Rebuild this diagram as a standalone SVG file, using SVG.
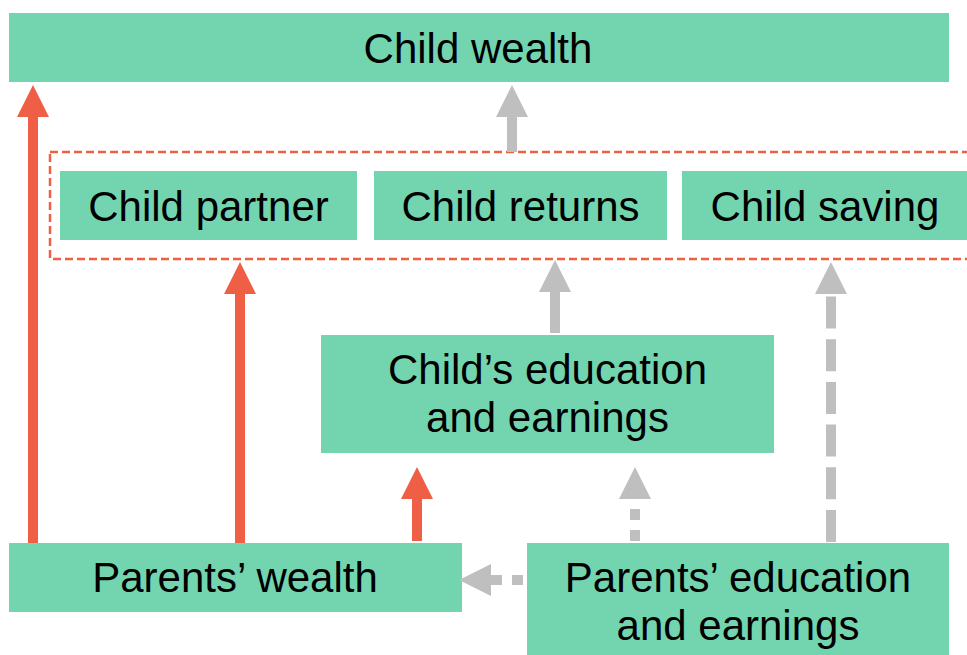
<svg xmlns="http://www.w3.org/2000/svg" width="967" height="655" viewBox="0 0 967 655">
<style>
.box{fill:#73D5B0}
.t{font-family:"Liberation Sans",Arial,sans-serif;font-size:42px;fill:#000;text-anchor:middle}
.red{stroke:#EE5F45;stroke-width:10;fill:none}
.gray{stroke:#BFBFBF;stroke-width:10;fill:none}
</style>
<defs>
<marker id="hr" markerUnits="userSpaceOnUse" markerWidth="32" markerHeight="32" refX="0" refY="16" orient="auto"><path d="M0,0 L32,16 L0,32 z" fill="#EE5F45"/></marker>
<marker id="hg" markerUnits="userSpaceOnUse" markerWidth="32" markerHeight="32" refX="0" refY="16" orient="auto"><path d="M0,0 L32,16 L0,32 z" fill="#BFBFBF"/></marker>
</defs>
<rect x="-10" y="-10" width="990" height="680" fill="#fff"/>
<g id="group-child-outcomes">
<rect x="50" y="152" width="930" height="107" fill="none" stroke="#EE5F45" stroke-width="2.5" stroke-dasharray="8 4"/>
</g>
<g id="child-wealth"><rect class="box" x="9" y="13" width="940" height="69"/><text class="t" x="478" y="63">Child wealth</text></g>
<g id="child-partner"><rect class="box" x="60" y="171" width="297" height="69"/><text class="t" x="208.5" y="221">Child partner</text></g>
<g id="child-returns"><rect class="box" x="374" y="171" width="293" height="69"/><text class="t" x="520.5" y="221">Child returns</text></g>
<g id="child-saving"><rect class="box" x="682" y="171" width="290" height="69"/><text class="t" x="825" y="221">Child saving</text></g>
<g id="child-education"><rect class="box" x="321" y="335" width="453" height="118"/><text class="t" x="547.5" y="384">Child’s education</text><text class="t" x="547.5" y="432">and earnings</text></g>
<g id="parents-wealth"><rect class="box" x="9" y="543" width="453" height="69"/><text class="t" x="235" y="592">Parents’ wealth</text></g>
<g id="parents-education"><rect class="box" x="527" y="543" width="422" height="112"/><text class="t" x="738" y="592">Parents’ education</text><text class="t" x="738" y="640">and earnings</text></g>
<g id="connectors">
<line class="red" x1="33" y1="543" x2="33" y2="117" marker-end="url(#hr)"/>
<line class="red" x1="240" y1="543" x2="240" y2="294" marker-end="url(#hr)"/>
<line class="red" x1="417" y1="541" x2="417" y2="499" marker-end="url(#hr)"/>
<line class="gray" x1="512" y1="152" x2="512" y2="117" marker-end="url(#hg)"/>
<line class="gray" x1="555" y1="333" x2="555" y2="292" marker-end="url(#hg)"/>
<line class="gray" x1="831" y1="542" x2="831" y2="294" stroke-dasharray="32 10.7" marker-end="url(#hg)"/>
<line class="gray" x1="635" y1="541" x2="635" y2="499" stroke-dasharray="11 10" marker-end="url(#hg)"/>
<line class="gray" x1="523" y1="580" x2="491" y2="580" stroke-dasharray="11 10" marker-end="url(#hg)"/>
</g>
</svg>
